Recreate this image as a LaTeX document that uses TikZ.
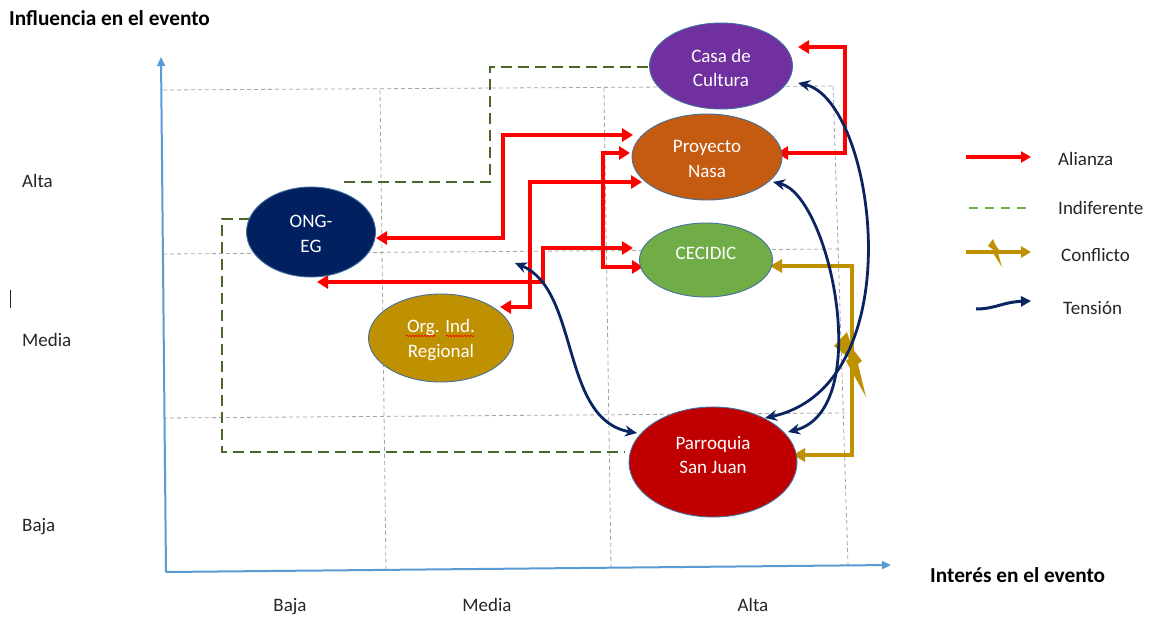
\documentclass[tikz,border=0pt]{standalone}
\usepackage{fontspec}
\setmainfont{Carlito}
\usetikzlibrary{shapes.geometric,arrows.meta,calc,decorations.pathmorphing}
\definecolor{ellline}{HTML}{41719C}
\definecolor{casaC}{HTML}{7030A0}
\definecolor{pnC}{HTML}{C55A11}
\definecolor{cecC}{HTML}{70AD47}
\definecolor{ongC}{HTML}{002060}
\definecolor{orgC}{HTML}{BF9000}
\definecolor{parC}{HTML}{C00000}
\definecolor{gridgray}{HTML}{A6A6A6}
\definecolor{axblue}{HTML}{5B9BD5}
\definecolor{alired}{HTML}{FF0000}
\definecolor{indgreen}{HTML}{4A662C}
\definecolor{indlight}{HTML}{70AD47}
\definecolor{goldc}{HTML}{BF9000}
\definecolor{navy}{HTML}{0B2563}
\pgfdeclarelayer{background}
\pgfsetlayers{background,main}
\tikzset{
  ell/.style={ellipse, draw=ellline, line width=0.9pt, inner sep=0pt},
  etxt/.style={text=white, align=center, font=\fontsize{19}{24.5}\selectfont, inner sep=0pt},
  lbl/.style={font=\fontsize{19}{22}\selectfont, inner sep=0pt, text=black!85},
  ttl/.style={font=\bfseries\fontsize{21.3}{24}\selectfont, inner sep=0pt},
  gridline/.style={draw=gridgray, line width=0.8pt, dash pattern=on 4pt off 3pt},
  axisline/.style={draw=axblue, line width=2pt, arrows={-Triangle[length=9pt,width=8pt]}},
  ali/.style={draw=alired, line width=4pt, arrows={Triangle[length=11pt,width=13pt]-Triangle[length=11pt,width=13pt]}},
  conf/.style={draw=goldc, line width=4pt, arrows={Triangle[length=12pt,width=13pt]-Triangle[length=12pt,width=13pt]}},
  tens/.style={draw=navy, line width=2.8pt, arrows={Stealth[length=12pt,width=11pt]-Stealth[length=12pt,width=11pt]}},
  indif/.style={draw=indgreen, line width=2.8pt, dash pattern=on 11pt off 6pt},
}
\begin{document}
\begin{tikzpicture}[x=1pt,y=-1pt]
\useasboundingbox (0,0) rectangle (1156,621);

% ellipses
\node[ell, fill=casaC, minimum width=143pt, minimum height=86pt] (casa) at (721,66) {};
\node[etxt] (casat) at (721,68) {Casa de\\Cultura};
\node[ell, fill=pnC, minimum width=150pt, minimum height=86pt] (pn) at (707,157) {};
\node[etxt] (pnt) at (707,159) {Proyecto\\Nasa};
\node[ell, fill=cecC, minimum width=133pt, minimum height=74pt] (cec) at (706,260) {};
\node[etxt, anchor=base] (cect) at (706,259) {CECIDIC};
\node[ell, fill=ongC, minimum width=129pt, minimum height=90pt] (ong) at (311,232) {};
\node[etxt] (ongt) at (311,234) {ONG-\\EG};
\node[ell, fill=orgC, minimum width=145pt, minimum height=88pt] (org) at (441,338) {};
\node[etxt] (orgt) at (441,340) {Org. Ind.\\Regional};
\node[ell, fill=parC, minimum width=168pt, minimum height=110pt] (par) at (713,462) {};
\node[etxt] (part) at (713,455) {Parroquia\\San Juan};
\draw[red, line width=0.6pt, decorate, decoration={snake, segment length=3pt, amplitude=0.8pt}] (406,336) -- (436,336);
\draw[red, line width=0.6pt, decorate, decoration={snake, segment length=3pt, amplitude=0.8pt}] (446,336) -- (474,336);

% labels
\node[ttl, anchor=base west] (ttly) at (9,25) {Influencia en el evento};
\node[ttl, anchor=base west] (ttlx) at (930,582) {Interés en el evento};
\node[lbl, anchor=base west] (ya) at (22,187) {Alta};
\node[lbl, anchor=base west] (ym) at (22,346) {Media};
\node[lbl, anchor=base west] (yb) at (22,531) {Baja};
\node[lbl, anchor=base] (xb) at (290,611) {Baja};
\node[lbl, anchor=base] (xm) at (487,611) {Media};
\node[lbl, anchor=base] (xa) at (753,611) {Alta};
\draw[black!85, line width=1pt] (10,290) -- (10,308);

% legend
\node[lbl, anchor=base west] (lal) at (1058,165) {Alianza};
\node[lbl, anchor=base west] (lin) at (1058,214) {Indiferente};
\node[lbl, anchor=base west] (lco) at (1061,261) {Conflicto};
\node[lbl, anchor=base west] (lte) at (1063,314) {Tensión};
\coordinate (la0) at (966,157); \coordinate (la1) at (1031,157);
\coordinate (li0) at (969,208); \coordinate (li1) at (1031,208);
\coordinate (lc0) at (966,252); \coordinate (lc1) at (1031,252);
\coordinate (lt0) at (976,309); \coordinate (lt1) at (1031,301);
\draw[draw=alired, line width=4pt, arrows={-Triangle[length=10pt,width=11pt]}] (la0) -- (la1);
\draw[draw=indlight, line width=2.5pt, dash pattern=on 9pt off 7pt] (li0) -- (li1);
\draw[draw=goldc, line width=3.5pt, arrows={-Triangle[length=10pt,width=11pt]}] (lc0) -- (lc1);
\fill[goldc] (993,239) -- (988,246) -- (995,251) -- (993,253) -- (1002,267) -- (998,253) -- (1000,251) -- (996,246) -- cycle;
\draw[draw=navy, line width=3pt, arrows={-Triangle[length=10pt,width=10pt]}] (lt0) .. controls (995,309) and (1003,302) .. (lt1);

\begin{pgfonlayer}{background}
\fill[white] (0,0) rectangle (1156,621);
% grid
\draw[gridline] (163,90) -- (835,86);
\draw[gridline] (163,254) -- (840,249);
\draw[gridline] (163,418) -- (845,413);
\draw[gridline] (380,90) -- (386,570);
\draw[gridline] (604,88) -- (611,568);
\draw[gridline] (833,86) -- (848,565);
% axes
\coordinate (orig) at (166,572);
\coordinate (ytop) at (161,57);
\coordinate (xend) at (891,565);
\draw[axisline] (orig) -- (ytop);
\draw[axisline] (orig) -- (xend);
% indifferent
\draw[indif] ($(casa)+(-73,1)$) -| (490,182) -- ($(ong)+(29,-50)$);
\draw[indif] ($(ong)+(-61,-13)$) -| (222,452) -- ($(par)+(-88,-10)$);
% alliances
\draw[ali] ($(ong)+(65,6)$) -| (503,135) -- ($(pn)+(-74,-22)$);
\draw[ali] ($(pn)+(-65,25)$) -| (530,307) -- ($(org)+(59,-31)$);
\draw[ali] ($(cec)+(-73,-12)$) -| (543,282) -- ($(ong)+(6,50)$);
\draw[ali] ($(pn)+(-77,-4)$) -| (603,267) -- ($(cec)+(-63,7)$);
\draw[ali] ($(casa)+(77,-19)$) -| (845,153) -- ($(pn)+(70,-4)$);
% conflict
\draw[conf] ($(cec)+(64,6)$) -| (852,455) -- ($(par)+(80,-7)$);
\fill[goldc] (847,332) -- (834,346) -- (849,358) -- (846,361) -- (866,397) -- (858,364) -- (862,361) -- (852,348) -- cycle;
% tension
\draw[tens] ($(casa)+(77,17)$) .. controls (875,100) and (915,385) .. ($(par)+(52,-44)$);
\draw[tens] ($(pn)+(66,25)$) .. controls (830,195) and (875,410) .. ($(par)+(75,-30)$);
\draw[tens] ($(org)+(74,-75)$) .. controls (580,290) and (560,420) .. ($(par)+(-76,-29)$);
\end{pgfonlayer}
\end{tikzpicture}
\end{document}
